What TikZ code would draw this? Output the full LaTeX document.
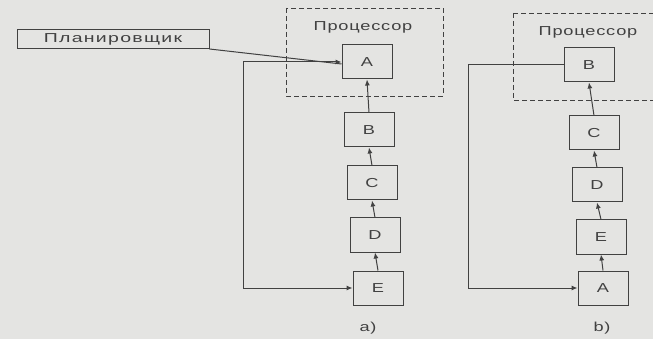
\documentclass[tikz,border=0pt]{standalone}
\usepackage{fontspec}
\setmainfont{Liberation Sans}
\newfontfamily\wide[FakeStretch=1.4,LetterSpace=6]{Liberation Sans}
\newfontfamily\wider[FakeStretch=1.5,LetterSpace=10]{Liberation Sans}
\usetikzlibrary{arrows.meta}
\definecolor{bg}{RGB}{228,228,226}
\definecolor{ink}{RGB}{65,65,65}
\begin{document}
\begin{tikzpicture}[x=1pt,y=-1pt,
  procbox/.style={draw=ink,line width=1pt,minimum width=50pt,minimum height=34pt,inner sep=0pt,font=\wide\fontsize{13}{13}\selectfont,text=ink},
  cpu/.style={draw=ink,line width=0.9pt,dash pattern=on 5pt off 3pt},
  conn/.style={draw=ink,line width=1pt},
  tip/.style={-{Latex[length=6pt,width=5pt]}},
  lbl/.style={font=\wide\fontsize{13}{13}\selectfont,text=ink,inner sep=0pt}]
\fill[bg] (0,0) rectangle (653,339);
\useasboundingbox (0,0) rectangle (653,339);
% left diagram
\draw[cpu] (286,8) rectangle (443,96);
\node[lbl] (p1) at (363,27) {Процессор};
\node[procbox] (A) at (367,62) {A};
\node[procbox] (B) at (369,130) {B};
\node[procbox] (C) at (372,183) {C};
\node[procbox] (D) at (375,235) {D};
\node[procbox] (E) at (378,288) {E};
\node[draw=ink,line width=1pt,minimum width=192pt,minimum height=19pt,inner sep=0pt,font=\wider\fontsize{13}{13}\selectfont,text=ink] (S) at (113,39) {Планировщик};
\draw[conn] (S.south east) -- ([yshift=-2pt]A.west);
\coordinate (fl) at (243,62);
\draw[conn,{Latex[length=6pt,width=5pt]}-{Latex[length=6pt,width=5pt]}] (A.west) -- (fl) |- (E.west);
\draw[conn,tip] (B.north) -- (A.south);
\draw[conn,tip] (C.north) -- (B.south);
\draw[conn,tip] (D.north) -- (C.south);
\draw[conn,tip] (E.north) -- (D.south);
\node[lbl] (la) at (368,328) {a)};
% right diagram
\draw[cpu] (513,13) -- (665,13) (513,13) -- (513,100) -- (665,100);
\node[lbl] (p2) at (588,32) {Процессор};
\node[procbox] (B2) at (589,65) {B};
\node[procbox] (C2) at (594,133) {C};
\node[procbox] (D2) at (597,185) {D};
\node[procbox] (E2) at (601,237) {E};
\node[procbox] (A2) at (603,288) {A};
\coordinate (fr) at (468,65);
\draw[conn,tip] (B2.west) -- (fr) |- (A2.west);
\draw[conn,tip] (C2.north) -- (B2.south);
\draw[conn,tip] (D2.north) -- (C2.south);
\draw[conn,tip] (E2.north) -- (D2.south);
\draw[conn,tip] (A2.north) -- (E2.south);
\node[lbl] (lb) at (602,328) {b)};
\end{tikzpicture}
\end{document}
